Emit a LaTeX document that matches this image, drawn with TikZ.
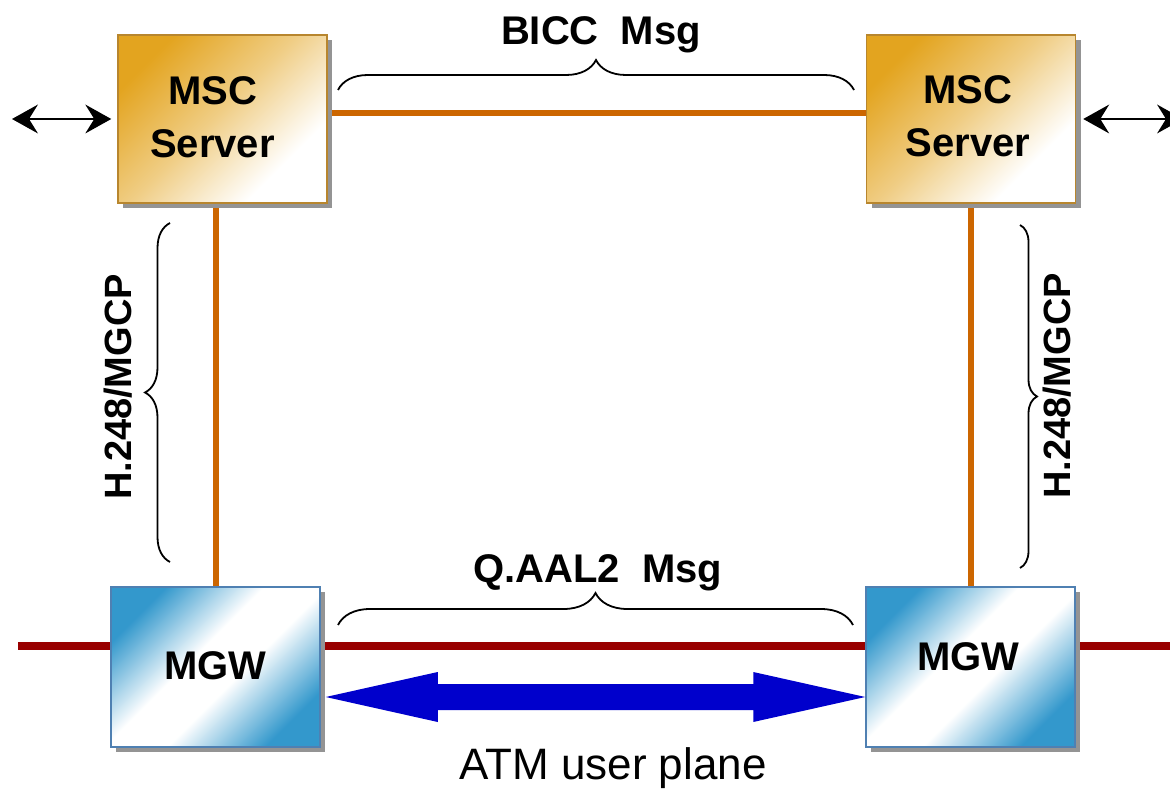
\documentclass[tikz,border=0pt]{standalone}
\usepackage{fontspec}
\setmainfont{Liberation Sans}
\usetikzlibrary{arrows.meta,decorations.pathreplacing,shadows,backgrounds,calc}

\definecolor{mscgold}{HTML}{E3A41F}
\definecolor{mscedge}{HTML}{B8862E}
\definecolor{mgwblue}{HTML}{3398CC}
\definecolor{mgwedge}{HTML}{4F80B2}
\definecolor{sigorange}{HTML}{CC6600}
\definecolor{bearerred}{HTML}{990000}
\definecolor{atmblue}{HTML}{0000CC}

% blue-white-blue ramp with a wider white band in the middle
\pgfdeclareverticalshading{mgwramp}{100bp}{color(0bp)=(mgwblue); color(25bp)=(mgwblue);
  color(44bp)=(white); color(56bp)=(white); color(75bp)=(mgwblue); color(100bp)=(mgwblue)}
% gold fading to white
\pgfdeclareverticalshading{mscramp}{100bp}{color(0bp)=(white); color(30bp)=(white);
  color(52bp)=(mscgold!55); color(75bp)=(mscgold); color(100bp)=(mscgold)}

% barbed arrow head at a named point; #2 = +1 points left, -1 points right
\newcommand{\barbhead}[2]{%
  \fill[black] (#1) -- ++({#2*26},-14.5) -- ++({-#2*9},14.5) -- ++({#2*9},14.5) -- cycle;}

\begin{document}
\begin{tikzpicture}[x=1pt,y=-1pt,
  boxshadow/.style={drop shadow={shadow xshift=5pt,shadow yshift=-5pt,fill=black!42,opacity=1}},
  mscbox/.style={draw=mscedge, line width=1.5pt, minimum width=209pt, minimum height=168pt,
    inner sep=0pt, shading=mscramp, shading angle=45, boxshadow},
  mgwbox/.style={draw=mgwedge, line width=1.5pt, minimum width=209pt, minimum height=160pt,
    inner sep=0pt, shading=mgwramp, shading angle=45, boxshadow},
  boxtext/.style={inner sep=0pt, align=center, font=\fontsize{40pt}{53pt}\selectfont\bfseries},
  msglabel/.style={inner sep=0pt, anchor=base, font=\fontsize{40pt}{48pt}\selectfont\bfseries},
  sidelabel/.style={inner sep=0pt, rotate=90, font=\fontsize{38pt}{46pt}\selectfont\bfseries},
  signal/.style={draw=sigorange, line width=6pt},
  bearer/.style={draw=bearerred, line width=8pt},
  extline/.style={draw=black, line width=2.6pt},
  bracket/.style={draw=black, line width=1.8pt, decorate},
]
\useasboundingbox (0,0) rectangle (1170,791);

% network elements
\node[mscbox] (mscL) at (222.5,119) {};
\node[mscbox] (mscR) at (971,119) {};
\node[mgwbox] (mgwL) at (215.5,667) {};
\node[mgwbox] (mgwR) at (970.5,667) {};

\node[boxtext] (mscLtext) at ($(mscL.center)+(-10,-2)$) {MSC\\Server};
\node[boxtext] (mscRtext) at ($(mscR.center)+(-3,-3)$) {MSC\\Server};
\node[boxtext] (mgwLtext) at ($(mgwL.center)+(0,-1)$) {MGW};
\node[boxtext] (mgwRtext) at ($(mgwR.center)+(-2,-10)$) {MGW};

% links behind the boxes
\begin{scope}[on background layer]
  \coordinate (redL) at (18,646);
  \coordinate (redR) at (1172,646);
  \draw[bearer] (redL) -- (redL -| mgwL.west);
  \draw[bearer] (mgwL.east |- redL) -- (mgwR.west |- redL);
  \draw[bearer] (mgwR.east |- redL) -- (redR);
  \draw[signal] ($(mscL.east)+(0,-6)$) -- ($(mscR.west)+(0,-6)$);
  \draw[signal] (mgwL.north) -- (mgwL.north |- mscL.south);
  \draw[signal] (mgwR.north) -- (mgwR.north |- mscR.south);
\end{scope}

% external interfaces (double-headed)
\coordinate (extL) at (12,119);
\coordinate (inL) at ($(mscL.west)+(-6,0)$);
\coordinate (inR) at ($(mscR.east)+(7,0)$);
\coordinate (extR) at (1183,119);
\draw[extline] ($(extL)+(12,0)$) -- ($(inL)+(-12,0)$);
\draw[extline] ($(inR)+(12,0)$) -- ($(extR)+(-12,0)$);
\barbhead{extL}{1}
\barbhead{inL}{-1}
\barbhead{inR}{1}
\barbhead{extR}{-1}

% ATM user plane bearer
\coordinate (atmL) at ($(mgwL.east)+(5,30)$);
\coordinate (atmR) at ($(mgwR.west)+(0,30)$);
\fill[atmblue] (atmL) -- ++(112,-25) -- ++(0,12) -- ($(atmR)+(-112,-13)$) -- ++(0,-12)
  -- (atmR) -- ++(-112,25) -- ++(0,-12) -- ($(atmL)+(112,13)$) -- ++(0,12) -- cycle;
\node[inner sep=0pt, anchor=base, font=\fontsize{44pt}{52pt}\selectfont] (atmtext) at (613,779) {ATM user plane};

% protocol braces
\coordinate (bTopA) at (338,90);
\coordinate (bTopB) at (854,90);
\draw[bracket, decoration={brace, amplitude=30pt}] (bTopA) -- (bTopB);
\node[msglabel] (bicc) at (601,45) {BICC\ \ Msg};

\coordinate (bBotA) at (338,625);
\coordinate (bBotB) at (853,625);
\draw[bracket, decoration={brace, amplitude=32pt}] (bBotA) -- (bBotB);
\node[msglabel] (qaal) at (598,582) {Q.AAL2\ \ Msg};

\coordinate (bLA) at (170,562);
\coordinate (bLB) at (170,223);
\draw[bracket, decoration={brace, amplitude=25pt}] (bLA) -- (bLB);
\node[sidelabel] (h248L) at (118,387) {H.248/MGCP};

\coordinate (bRA) at (1020,225);
\coordinate (bRB) at (1020,568);
\draw[bracket, decoration={brace, amplitude=17pt}] (bRA) -- (bRB);
\node[sidelabel] (h248R) at (1057,386) {H.248/MGCP};
\end{tikzpicture}
\end{document}
